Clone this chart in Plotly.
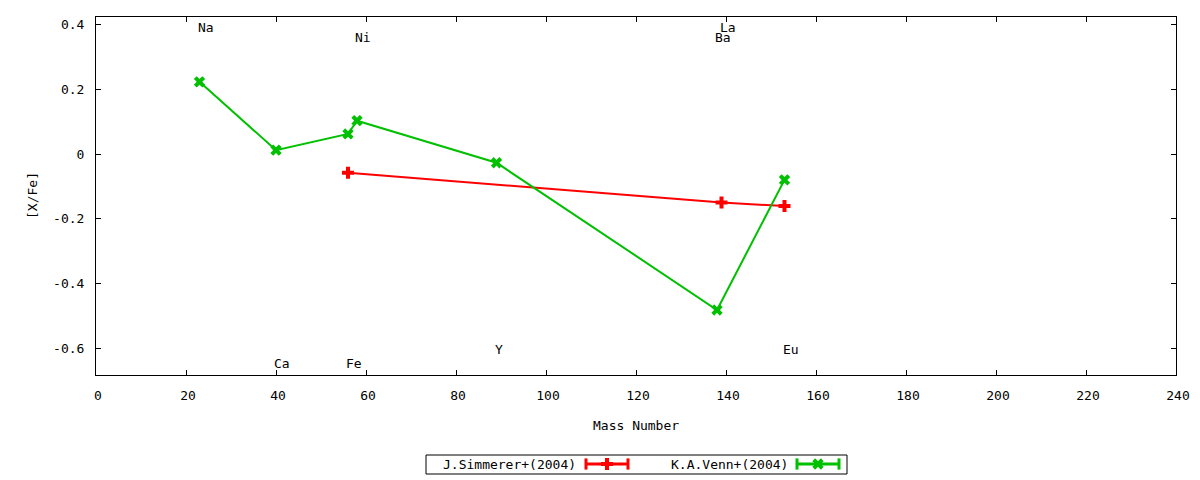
import plotly.graph_objects as go

# Abundance ratios [X/Fe] vs mass number
simm_mass = [56, 139, 153]
simm_xfe = [-0.058, -0.150, -0.161]

venn_mass = [23, 40, 56, 58, 89, 138, 153]
venn_xfe = [0.223, 0.012, 0.062, 0.103, -0.027, -0.482, -0.080]

# element labels (left edge at the element's mass number)
label_text = ['Na', 'Ca', 'Fe', 'Ni', 'Y', 'Ba', 'La', 'Eu']
label_mass = [23, 40, 56, 58, 89, 138, 139, 153]
label_xfe = [0.392, -0.646, -0.646, 0.361, -0.604, 0.360, 0.390, -0.604]

x_ticks = list(range(0, 241, 20))
y_ticks = [-0.6, -0.4, -0.2, 0, 0.2, 0.4]
y_ticklabels = ['-0.6', '-0.4', '-0.2', '0', '0.2', '0.4']

series_names = ['J.Simmerer+(2004)', 'K.A.Venn+(2004)']
series_colors = ['#ff0000', '#00c000']
series_symbols = ['cross', 'x']

FONT = dict(family='DejaVu Sans Mono', size=13, color='black')
W, H = 1200, 480
OFF = 8  # page body margin shifts the figure by this many px
# plot box, in screen pixels
L, R, T, B = 96, 1176, 17, 375

fig = go.Figure()

for mass, xfe, name, col, sym in zip([simm_mass, venn_mass], [simm_xfe, venn_xfe],
                                     series_names, series_colors, series_symbols):
    fig.add_trace(go.Scatter(x=mass, y=xfe, mode='lines+markers', name=name,
                             line=dict(color=col, width=2),
                             marker=dict(symbol=sym, size=10, color=col),
                             showlegend=False))

# gnuplot style key: text first, then sample (drawn on a screen-pixel axis)
key_text_right = [578, 790]
key_sample = [(586, 628), (797, 839)]
key_y = 464
for name, col, sym, tx, (s0, s1) in zip(series_names, series_colors, series_symbols,
                                        key_text_right, key_sample):
    fig.add_trace(go.Scatter(x=[s0, s1], y=[key_y, key_y], mode='lines+markers',
                             xaxis='x2', yaxis='y2', showlegend=False, hoverinfo='skip',
                             line=dict(color=col, width=3),
                             marker=dict(symbol='line-ns', size=8,
                                         line=dict(color=col, width=3))))
    fig.add_trace(go.Scatter(x=[(s0 + s1) / 2], y=[key_y], mode='markers',
                             xaxis='x2', yaxis='y2', showlegend=False, hoverinfo='skip',
                             marker=dict(symbol=sym, size=10, color=col)))
    fig.add_annotation(x=tx, y=key_y, xref='x2', yref='y2', text=name, showarrow=False,
                       xanchor='right', yanchor='middle', font=FONT)

fig.add_shape(type='rect', xref='x2', yref='y2', x0=426, x1=847, y0=455, y1=474,
              line=dict(color='black', width=1))

# axis titles
fig.add_annotation(x=(L + R) / 2, y=425, xref='x2', yref='y2', text='Mass Number',
                   showarrow=False, xanchor='center', yanchor='middle', font=FONT)
fig.add_annotation(x=32, y=(T + B) / 2, xref='x2', yref='y2', text='[X/Fe]', textangle=-90,
                   showarrow=False, xanchor='center', yanchor='middle', font=FONT)

for txt, m, v in zip(label_text, label_mass, label_xfe):
    fig.add_annotation(x=m, y=v, xref='x', yref='y', text=txt, showarrow=False,
                       xanchor='left', yanchor='middle', xshift=-4, font=FONT)

axis_common = dict(showline=True, mirror='allticks', linecolor='black', linewidth=1,
                   ticks='inside', ticklen=5, tickcolor='black', showgrid=False,
                   zeroline=False, tickfont=FONT, automargin=False, ticklabelstandoff=8)

fig.update_layout(
    width=W, height=H,
    margin=dict(l=0, r=0, t=0, b=0, autoexpand=False),
    paper_bgcolor='white',
    plot_bgcolor='rgba(0,0,0,0)',
    font=FONT,
    showlegend=False,
    xaxis=dict(domain=[(L - OFF) / W, (R - OFF) / W], range=[0, 240], tickvals=x_ticks,
               ticklabelshift=2, **axis_common),
    yaxis=dict(domain=[(H - B + OFF) / H, (H - T + OFF) / H], range=[-0.683, 0.4235],
               tickvals=y_ticks, ticktext=y_ticklabels, **axis_common),
    xaxis2=dict(domain=[0, 1], range=[OFF, W + OFF], anchor='y2', visible=False,
                automargin=False),
    yaxis2=dict(domain=[0, 1], range=[H + OFF, OFF], anchor='x2', visible=False,
                automargin=False),
)

fig.write_html("out.html")
